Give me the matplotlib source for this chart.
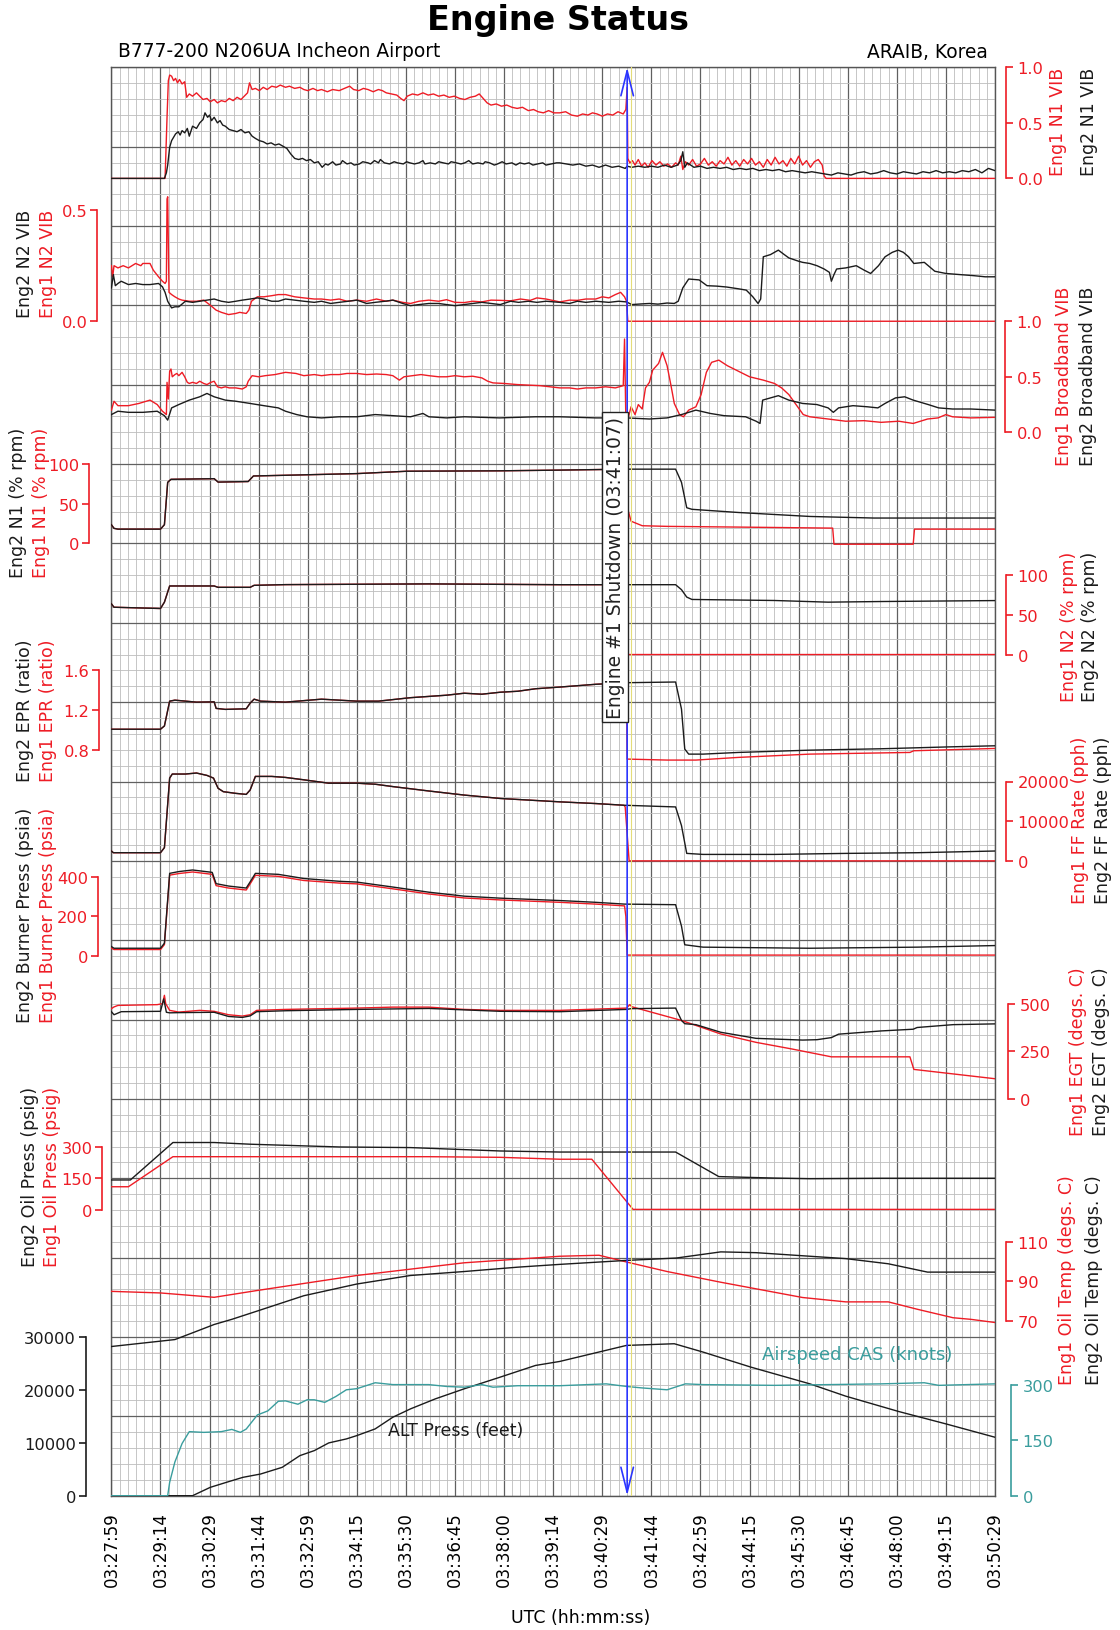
import matplotlib
matplotlib.use("Agg")
import matplotlib.pyplot as plt
from matplotlib.ticker import MultipleLocator

plt.rcParams["font.family"] = ["DejaVu Sans"]

# ---------------- data (time = seconds after 03:27:59) ----------------
time_labels = ["03:27:59", "03:29:14", "03:30:29", "03:31:44", "03:32:59",
               "03:34:15", "03:35:30", "03:36:45", "03:38:00", "03:39:14",
               "03:40:29", "03:41:44", "03:42:59", "03:44:15", "03:45:30",
               "03:46:45", "03:48:00", "03:49:15", "03:50:29"]
shutdown_t = 788

n1vib_e1 = [(0,0),(82,0),(85,.55),(87,.88),(89,.93),(92,.92),(95,.88),(98,.90),(101,.86),(104,.89),(108,.85),(112,.87),(115,.73),(119,.76),(124,.74),(130,.77),(135,.74),(140,.71),(146,.72),(151,.69),(157,.71),(162,.68),(168,.70),(174,.69),(180,.72),(186,.70),(192,.73),(198,.71),(203,.74),(208,.77),(211,.86),(215,.80),(220,.81),(226,.79),(232,.82),(238,.80),(245,.83),(252,.82),(258,.84),(266,.82),(272,.83),(280,.81),(288,.82),(294,.80),(300,.79),(308,.81),(315,.79),(321,.80),(330,.78),(338,.80),(348,.79),(356,.81),(364,.83),(370,.80),(378,.79),(385,.81),(392,.80),(400,.78),(408,.80),(414,.79),(420,.77),(428,.76),(436,.75),(442,.72),(447,.70),(452,.74),(460,.76),(468,.75),(476,.77),(484,.75),(492,.76),(500,.74),(508,.75),(516,.73),(524,.74),(532,.72),(540,.71),(548,.73),(556,.74),(562,.76),(568,.72),(574,.68),(580,.66),(588,.67),(596,.65),(604,.66),(612,.64),(620,.63),(628,.64),(637,.61),(645,.62),(652,.60),(660,.59),(668,.61),(676,.59),(685,.59),(694,.60),(703,.57),(712,.56),(720,.58),(728,.57),(735,.59),(742,.58),(750,.56),(758,.58),(766,.57),(774,.60),(782,.58),(786,.62),(788,.82),(789,.18),(792,.14),(796,.16),(800,.12),(805,.17),(810,.11),(815,.14),(820,.10),(826,.16),(832,.12),(838,.15),(844,.11),(850,.13),(856,.10),(862,.14),(866,.12),(870,.20),(873,.08),(877,.15),(882,.12),(888,.17),(894,.11),(900,.13),(906,.18),(912,.12),(918,.15),(924,.11),(930,.16),(936,.13),(942,.19),(948,.12),(954,.16),(960,.11),(966,.17),(972,.13),(978,.18),(984,.12),(990,.15),(996,.10),(1002,.17),(1008,.12),(1014,.19),(1020,.13),(1026,.16),(1032,.11),(1038,.18),(1044,.13),(1050,.20),(1056,.12),(1062,.16),(1068,.10),(1074,.15),(1080,.17),(1086,.12),(1089,.02),(1092,0),(1350,0)]
n1vib_e2 = [(0,0),(81,0),(84,.05),(86,.12),(89,.28),(92,.34),(95,.37),(98,.40),(102,.42),(105,.39),(108,.43),(112,.41),(116,.45),(119,.38),(124,.47),(130,.45),(135,.50),(140,.53),(143,.59),(147,.55),(150,.57),(153,.52),(157,.55),(162,.50),(166,.52),(170,.48),(174,.47),(180,.44),(186,.43),(192,.42),(198,.44),(204,.41),(210,.42),(215,.38),(220,.36),(226,.34),(232,.33),(238,.31),(244,.32),(250,.30),(256,.31),(262,.29),(268,.27),(274,.22),(280,.18),(286,.17),(292,.18),(298,.16),(304,.17),(310,.14),(316,.15),(322,.10),(327,.13),(331,.12),(338,.15),(343,.12),(350,.13),(353,.16),(360,.13),(366,.14),(371,.12),(379,.13),(384,.15),(392,.14),(396,.13),(402,.16),(408,.14),(411,.17),(417,.14),(425,.13),(432,.15),(437,.14),(446,.13),(451,.15),(456,.14),(463,.13),(470,.14),(476,.16),(479,.13),(487,.14),(495,.13),(500,.15),(507,.14),(515,.13),(519,.15),(527,.14),(534,.13),(540,.14),(546,.16),(552,.13),(560,.14),(568,.13),(571,.15),(578,.14),(585,.12),(590,.13),(597,.15),(603,.13),(612,.14),(618,.12),(624,.14),(631,.13),(638,.14),(644,.12),(651,.13),(659,.14),(664,.12),(672,.13),(680,.14),(685,.14),(695,.13),(705,.12),(715,.13),(725,.11),(735,.12),(745,.10),(755,.12),(765,.10),(775,.11),(785,.09),(788,.11),(795,.10),(805,.11),(815,.10),(825,.11),(835,.10),(845,.12),(855,.10),(865,.12),(870,.16),(873,.24),(876,.10),(880,.14),(890,.10),(900,.11),(910,.09),(920,.10),(930,.09),(940,.10),(950,.08),(960,.09),(970,.08),(980,.09),(990,.07),(1000,.08),(1010,.07),(1020,.08),(1030,.06),(1040,.07),(1050,.06),(1060,.05),(1070,.06),(1080,.05),(1090,.04),(1100,.03),(1110,.05),(1120,.04),(1130,.03),(1140,.05),(1150,.06),(1160,.04),(1170,.05),(1180,.07),(1190,.05),(1200,.04),(1210,.06),(1220,.05),(1230,.04),(1240,.06),(1250,.05),(1260,.07),(1270,.05),(1280,.06),(1290,.05),(1300,.07),(1310,.06),(1320,.08),(1330,.05),(1340,.09),(1350,.07)]

n2vib_e1 = [(0,.25),(2,.20),(4,.25),(10,.24),(18,.25),(26,.24),(37,.26),(45,.25),(48,.26),(59,.26),(64,.23),(72,.20),(78,.18),(82,.17),(84,.18),(85,.55),(86,.56),(88,.13),(92,.12),(97,.11),(103,.10),(108,.095),(119,.09),(130,.09),(141,.095),(152,.07),(160,.05),(168,.04),(179,.03),(190,.035),(196,.04),(206,.035),(210,.05),(214,.09),(223,.11),(233,.11),(245,.115),(255,.12),(266,.12),(280,.11),(294,.105),(310,.10),(321,.10),(335,.095),(348,.10),(360,.09),(375,.095),(390,.09),(405,.10),(420,.09),(430,.095),(445,.085),(457,.08),(470,.09),(485,.095),(500,.09),(512,.097),(525,.085),(539,.084),(552,.09),(566,.087),(580,.095),(594,.094),(610,.092),(625,.10),(640,.094),(650,.105),(664,.10),(685,.087),(700,.095),(712,.094),(725,.10),(740,.10),(750,.11),(760,.105),(770,.12),(778,.13),(784,.11),(787,.09),(789,0),(1350,0)]
n2vib_e2 = [(0,.15),(3,.21),(6,.16),(10,.17),(15,.18),(26,.165),(37,.17),(48,.165),(59,.165),(72,.17),(78,.155),(82,.13),(86,.09),(92,.06),(97,.065),(103,.065),(113,.09),(124,.085),(135,.09),(146,.095),(157,.10),(168,.09),(179,.085),(190,.09),(200,.095),(212,.10),(223,.105),(233,.10),(245,.09),(255,.09),(266,.10),(280,.095),(294,.09),(310,.085),(321,.09),(335,.08),(348,.085),(362,.09),(375,.095),(390,.08),(403,.085),(418,.09),(430,.095),(445,.08),(457,.07),(470,.075),(485,.08),(500,.08),(512,.075),(525,.07),(539,.075),(552,.08),(566,.085),(580,.08),(594,.075),(610,.09),(622,.085),(637,.09),(650,.085),(664,.09),(685,.085),(700,.08),(712,.09),(725,.085),(740,.09),(760,.085),(775,.09),(787,.087),(795,.075),(810,.078),(822,.08),(835,.077),(849,.082),(860,.08),(866,.09),(873,.15),(882,.19),(890,.188),(898,.186),(910,.16),(925,.158),(940,.154),(958,.146),(970,.14),(980,.11),(988,.08),(992,.10),(996,.29),(1007,.30),(1019,.32),(1028,.30),(1035,.285),(1050,.27),(1056,.265),(1067,.26),(1078,.25),(1089,.235),(1097,.22),(1100,.18),(1104,.21),(1108,.235),(1122,.24),(1138,.25),(1150,.23),(1160,.215),(1172,.25),(1182,.29),(1193,.31),(1202,.32),(1210,.31),(1218,.29),(1226,.26),(1242,.265),(1258,.225),(1275,.215),(1296,.21),(1318,.205),(1335,.20),(1350,.20)]

bbvib_e1 = [(0,.20),(4,.28),(10,.24),(26,.24),(42,.26),(59,.29),(70,.25),(78,.19),(84,.16),(85,.45),(87,.30),(89,.55),(91,.57),(93,.50),(97,.52),(100,.53),(103,.51),(108,.54),(112,.50),(116,.45),(119,.44),(124,.45),(130,.44),(135,.46),(141,.44),(146,.43),(152,.45),(157,.46),(162,.41),(168,.40),(174,.41),(180,.40),(190,.40),(200,.39),(206,.41),(209,.46),(215,.51),(225,.50),(235,.51),(250,.52),(266,.54),(282,.53),(294,.51),(310,.52),(321,.51),(335,.52),(348,.52),(360,.53),(375,.53),(390,.52),(405,.525),(420,.52),(430,.51),(440,.47),(447,.50),(460,.51),(473,.52),(485,.51),(500,.50),(512,.50),(525,.51),(539,.50),(552,.505),(566,.49),(575,.46),(583,.445),(600,.44),(620,.43),(637,.425),(655,.42),(670,.41),(685,.40),(700,.40),(712,.39),(725,.40),(740,.40),(755,.41),(770,.40),(782,.42),(784,.84),(786,.11),(790,.14),(794,.23),(800,.16),(805,.25),(811,.21),(816,.40),(822,.45),(827,.56),(836,.62),(842,.72),(849,.60),(855,.42),(860,.26),(868,.16),(874,.14),(882,.20),(893,.23),(901,.34),(909,.54),(917,.63),(928,.65),(941,.60),(958,.55),(975,.50),(996,.47),(1013,.44),(1024,.40),(1035,.34),(1046,.25),(1057,.16),(1067,.14),(1095,.12),(1122,.10),(1150,.105),(1176,.09),(1203,.10),(1225,.08),(1247,.12),(1263,.13),(1275,.16),(1285,.14),(1313,.13),(1350,.135)]
bbvib_e2 = [(0,.16),(10,.19),(26,.18),(48,.18),(70,.19),(81,.15),(86,.11),(92,.22),(103,.25),(119,.29),(135,.32),(146,.35),(157,.32),(174,.29),(190,.28),(212,.26),(233,.24),(255,.22),(266,.19),(283,.16),(299,.14),(321,.13),(348,.14),(375,.14),(403,.16),(430,.15),(457,.14),(476,.17),(485,.14),(512,.13),(539,.14),(593,.13),(648,.14),(685,.14),(740,.13),(787,.13),(822,.12),(849,.13),(871,.16),(893,.20),(915,.17),(936,.15),(969,.14),(985,.10),(991,.08),(995,.29),(1007,.31),(1019,.33),(1035,.29),(1056,.26),(1078,.25),(1095,.22),(1103,.18),(1111,.22),(1133,.24),(1155,.23),(1171,.22),(1182,.26),(1198,.31),(1212,.32),(1225,.29),(1248,.25),(1264,.22),(1285,.21),(1313,.21),(1350,.20)]

n1_e1 = [(0,23.6),(4,19),(10,18),(75,18),(81,23.6),(86,77),(91,80.8),(157,81.6),(163,77.3),(209,78),(217,85),(266,85.9),(375,88),(452,91),(593,91.5),(685,92.4),(787,93.6),(789,43),(794,28),(811,22.3),(849,21.5),(958,20.6),(1102,19.3),(1104,-1),(1225,-1),(1227,18),(1350,18)]
n1_e2 = [(0,23.6),(4,19),(10,18),(75,18),(81,23.6),(86,77),(91,80.8),(157,81.6),(163,77.3),(209,78),(217,85),(266,85.9),(375,88),(452,91),(593,91.5),(685,92.4),(787,93.6),(862,93.6),(871,77),(879,45),(887,43),(958,39),(1067,34),(1165,32),(1350,32)]

n2_e1 = [(0,63.9),(4,59.6),(75,58),(81,66),(89,86.4),(157,86.4),(163,84.7),(212,84.7),(218,87.2),(266,88.1),(485,89),(685,88),(787,88),(789,0),(1350,0)]
n2_e2 = [(0,63.9),(4,59.6),(75,58),(81,66),(89,86.4),(157,86.4),(163,84.7),(212,84.7),(218,87.2),(266,88.1),(485,89),(685,88),(787,88),(862,88),(871,81.7),(879,72.4),(887,69.4),(1013,68.1),(1095,66),(1176,66.8),(1350,68)]

epr_e1 = [(0,1.007),(75,1.007),(81,1.04),(89,1.29),(97,1.30),(130,1.28),(157,1.283),(160,1.217),(174,1.207),(206,1.213),(212,1.27),(218,1.31),(228,1.29),(266,1.28),(321,1.31),(375,1.29),(408,1.29),(457,1.325),(512,1.35),(539,1.37),(566,1.36),(594,1.38),(621,1.39),(648,1.415),(685,1.432),(740,1.46),(787,1.476),(788,0.706),(849,0.696),(893,0.696),(958,0.723),(1067,0.756),(1220,0.773),(1226,0.79),(1350,0.813)]
epr_e2 = [(0,1.007),(75,1.007),(81,1.04),(89,1.29),(97,1.30),(130,1.28),(157,1.283),(160,1.217),(174,1.207),(206,1.213),(212,1.27),(218,1.31),(228,1.29),(266,1.28),(321,1.31),(375,1.29),(408,1.29),(457,1.325),(512,1.35),(539,1.37),(566,1.36),(594,1.38),(621,1.39),(648,1.415),(685,1.432),(740,1.46),(787,1.476),(862,1.483),(871,1.21),(876,0.807),(882,0.756),(904,0.756),(958,0.773),(1067,0.796),(1176,0.81),(1286,0.83),(1350,0.84)]

ff_e1 = [(0,2479),(3,2051),(75,2051),(81,3333),(89,20855),(93,21880),(113,21880),(130,22136),(146,21538),(156,20855),(163,18290),(171,17436),(190,17009),(206,16752),(212,17863),(220,21282),(245,21282),(266,21026),(294,20427),(332,19573),(375,19573),(403,19316),(430,18718),(485,17607),(539,16581),(594,15726),(685,14872),(740,14444),(783,14017),(785,13590),(791,0),(1350,0)]
ff_e2 = [(0,2479),(3,2051),(75,2051),(81,3333),(89,20855),(93,21880),(113,21880),(130,22136),(146,21538),(156,20855),(163,18290),(171,17436),(190,17009),(206,16752),(212,17863),(220,21282),(245,21282),(266,21026),(294,20427),(332,19573),(375,19573),(403,19316),(430,18718),(485,17607),(539,16581),(594,15726),(685,14872),(740,14444),(783,14017),(862,13590),(871,8889),(879,1880),(904,1624),(1013,1624),(1122,1880),(1231,2051),(1350,2479)]

burner_e1 = [(0,40),(4,33),(75,33),(81,58),(89,408),(103,416),(124,424),(154,412),(160,355),(179,343),(206,333),(212,364),(220,407),(255,402),(294,381),(348,368),(375,364),(430,339),(485,313),(539,293),(594,283),(685,271),(740,262),(784,253),(786,200),(788,5),(1350,5)]
burner_e2 = [(0,48),(4,39.5),(75,39.5),(81,65),(89,417),(103,426),(124,434),(154,422),(160,365),(179,353),(206,343),(212,374),(220,417),(255,412),(294,391),(348,377),(375,373),(430,348),(485,322),(539,302),(594,292),(685,280),(740,271),(784,262),(862,259),(871,151),(876,57),(904,45),(1067,39.5),(1231,45),(1350,53)]

egt_e1 = [(0,474),(4,483),(10,491),(70,495),(78,500),(81,544),(83,500),(89,465),(103,456),(135,465),(157,460),(179,442),(200,435),(212,442),(222,465),(266,470),(375,477),(430,482),(485,482),(539,470),(594,465),(685,465),(787,477),(792,495),(795,484),(871,412),(931,341),(985,297),(1040,262),(1100,221),(1220,221),(1226,155),(1350,106)]
egt_e2 = [(0,458),(4,442),(15,458),(75,460),(80,525),(84,455),(89,452),(103,453),(157,455),(179,433),(200,428),(212,436),(222,458),(266,463),(375,470),(485,475),(594,460),(685,458),(787,470),(794,474),(862,477),(871,412),(876,395),(893,390),(931,350),(985,318),(1056,309),(1078,311),(1100,322),(1111,340),(1176,357),(1225,366),(1231,375),(1286,390),(1350,394)]

oilp_e1 = [(0,110),(26,110),(94,252),(375,252),(485,252),(594,249),(685,240),(734,240),(797,3),(1350,3)]
oilp_e2 = [(0,142),(29,142),(94,319),(157,319),(212,311),(348,298),(457,295),(594,279),(685,274),(862,274),(928,158),(1013,151),(1067,148),(1176,150),(1350,150)]

oilt_e1 = [(0,85.0),(75,84.2),(157,82.0),(222,85.4),(375,93.0),(539,99.4),(685,102.7),(745,103.2),(787,99.8),(849,95.0),(931,89.6),(1056,81.9),(1122,79.7),(1187,79.7),(1231,76.0),(1286,71.7),(1313,70.9),(1350,69.3)]
oilt_e2 = [(0,57.2),(97,60.7),(124,64.1),(157,68.3),(184,70.9),(223,75.1),(294,82.8),(375,88.7),(457,93.0),(539,95.0),(621,97.2),(685,98.6),(787,100.6),(863,101.8),(931,104.9),(985,104.5),(1122,101.5),(1187,98.9),(1247,94.7),(1350,94.7)]

alt_press = [(0,0),(124,0),(151,1578),(179,2652),(201,3472),(228,4100),(261,5366),(288,7576),(310,8522),(332,9975),(359,10732),(375,11363),(403,12626),(430,14836),(457,16414),(495,18308),(539,20202),(594,22411),(648,24621),(685,25378),(787,28408),(860,28724),(904,27146),(977,24305),(1067,21148),(1122,18813),(1203,15909),(1275,13573),(1350,11048)]
cas = [(0,0),(86,0),(89,36),(97,91),(108,141),(119,173),(141,171),(168,173),(184,179),(197,171),(206,180),(223,218),(239,229),(255,255),(266,256),(285,247),(299,259),(310,259),(326,252),(343,268),(359,286),(375,289),(403,305),(430,300),(485,300),(512,295),(539,293),(566,300),(583,293),(621,297),(685,297),(756,302),(787,295),(811,291),(849,286),(877,302),(904,300),(1013,298),(1176,302),(1242,305),(1264,298),(1350,302)]

# ---------------- layout ----------------
RED = "#ee1c25"
BLK = "#1b1b1b"
TEAL = "#3a9d9d"
W, H = 1120, 1631
L, R, T, B = 111.4, 995.0, 68.3, 1496.7
rect = [L / W, 1 - B / H, (R - L) / W, (B - T) / H]

fig = plt.figure(figsize=(W / 100, H / 100), dpi=100)

# background grid (18 x 18 major cells)
ax = fig.add_axes(rect)
ax.set_xlim(0, 1350)
ax.set_ylim(0, 18)
ax.set_xticks(range(0, 1351, 75))
ax.set_xticklabels(time_labels, rotation=90, fontsize=12)
ax.xaxis.set_minor_locator(MultipleLocator(12.5))
ax.yaxis.set_major_locator(MultipleLocator(1))
ax.yaxis.set_minor_locator(MultipleLocator(0.2))
ax.tick_params(which="both", length=0, labelleft=False)
ax.tick_params(axis="x", pad=11)
ax.grid(which="minor", color="#bdbdbd", lw=0.6)
ax.grid(which="major", color="#606060", lw=0.9)
for s in ax.spines.values():
    s.set_color("#555555")
    s.set_linewidth(1.0)


def scale_axes(side, g0, v0, g1, v1, ticks, ticklabels, color, offset):
    # one transparent axes per parameter; g = grid row position of a value
    a = fig.add_axes(rect)
    a.patch.set_visible(False)
    k = (g1 - g0) / (v1 - v0)
    a.set_xlim(0, 1350)
    a.set_ylim(v0 - g0 / k, v0 + (18 - g0) / k)
    a.xaxis.set_visible(False)
    for s in a.spines.values():
        s.set_visible(False)
    sp = a.spines[side]
    sp.set_visible(True)
    sp.set_position(("outward", offset * 0.72))
    sp.set_bounds(ticks[0], ticks[-1])
    sp.set_color(color)
    sp.set_linewidth(1.2)
    a.yaxis.set_ticks_position(side)
    a.set_yticks(ticks)
    a.set_yticklabels(ticklabels)
    a.tick_params(axis="y", colors=color, length=5, width=1.2, labelsize=11.7,
                  pad=2 if side == "left" else 3.5)
    return a


def trace(a, pairs, color):
    a.plot([p[0] for p in pairs], [p[1] for p in pairs], color=color, lw=1.0)


def vlabel(x, y, s, color):
    fig.text(x / W, 1 - y / H, s, rotation=90, ha="center", va="center",
             color=color, fontsize=12.5)


panels = [
    ("right", 16.6, 0.0, 18.0, 1.0, [0, 0.5, 1.0], ["0.0", "0.5", "1.0"], 10.7, n1vib_e1, n1vib_e2),
    ("left", 14.8, 0.0, 16.2, 0.5, [0, 0.5], ["0.0", "0.5"], 14.4, n2vib_e1, n2vib_e2),
    ("right", 13.4, 0.0, 14.8, 1.0, [0, 0.5, 1.0], ["0.0", "0.5", "1.0"], 9.6, bbvib_e1, bbvib_e2),
    ("left", 12.0, 0, 13.0, 100, [0, 50, 100], ["0", "50", "100"], 22.8, n1_e1, n1_e2),
    ("right", 10.6, 0, 11.6, 100, [0, 50, 100], ["0", "50", "100"], 10.7, n2_e1, n2_e2),
    ("left", 9.4, 0.8, 10.4, 1.6, [0.8, 1.2, 1.6], ["0.8", "1.2", "1.6"], 12.4, epr_e1, epr_e2),
    ("right", 8.0, 0, 9.0, 20000, [0, 10000, 20000], ["0", "10000", "20000"], 10.7, ff_e1, ff_e2),
    ("left", 6.8, 0, 7.8, 400, [0, 200, 400], ["0", "200", "400"], 13.4, burner_e1, burner_e2),
    ("right", 5.0, 0, 6.2, 500, [0, 250, 500], ["0", "250", "500"], 13.2, egt_e1, egt_e2),
    ("left", 3.6, 0, 4.4, 300, [0, 150, 300], ["0", "150", "300"], 9.0, oilp_e1, oilp_e2),
    ("right", 2.2, 70, 3.2, 110, [70, 90, 110], ["70", "90", "110"], 10.7, oilt_e1, oilt_e2),
]
for side, g0, v0, g1, v1, ticks, tl, off, e1, e2 in panels:
    a = scale_axes(side, g0, v0, g1, v1, ticks, tl, RED, off)
    trace(a, e1, RED)
    trace(a, e2, BLK)

a = scale_axes("left", 0.0, 0, 2.0, 30000, [0, 10000, 20000, 30000],
               ["0", "10000", "20000", "30000"], BLK, 25.7)
trace(a, alt_press, BLK)
a = scale_axes("right", 0.0, 0, 1.4, 300, [0, 150, 300], ["0", "150", "300"], TEAL, 15.7)
trace(a, cas, TEAL)

# parameter names
left_names = [
    ("Eng2 N2 VIB", "Eng1 N2 VIB", 25, 48, 264),
    ("Eng2 N1 (% rpm)", "Eng1 N1 (% rpm)", 18, 41, 503),
    ("Eng2 EPR (ratio)", "Eng1 EPR (ratio)", 25, 48, 711),
    ("Eng2 Burner Press (psia)", "Eng1 Burner Press (psia)", 25, 48, 915),
    ("Eng2 Oil Press (psig)", "Eng1 Oil Press (psig)", 30, 52, 1177),
]
for blk, red, xb, xr, y in left_names:
    vlabel(xb, y, blk, BLK)
    vlabel(xr, y, red, RED)
right_names = [
    ("Eng1 N1 VIB", "Eng2 N1 VIB", 1058, 1089, 122),
    ("Eng1 Broadband VIB", "Eng2 Broadband VIB", 1064, 1088, 376),
    ("Eng1 N2 (% rpm)", "Eng2 N2 (% rpm)", 1069, 1090, 627),
    ("Eng1 FF Rate (pph)", "Eng2 FF Rate (pph)", 1080, 1103, 820),
    ("Eng1 EGT (degs. C)", "Eng2 EGT (degs. C)", 1078, 1101, 1052),
    ("Eng1 Oil Temp (degs. C)", "Eng2 Oil Temp (degs. C)", 1067, 1094, 1280),
]
for red, blk, xr, xb, y in right_names:
    vlabel(xr, y, red, RED)
    vlabel(xb, y, blk, BLK)

fig.text(857 / W, 1 - 1355 / H, "Airspeed CAS (knots)", color=TEAL, fontsize=13,
         ha="center", va="center")
fig.text(456 / W, 1 - 1431 / H, "ALT Press (feet)", color=BLK, fontsize=12.5,
         ha="center", va="center")

# shutdown marker
top = fig.add_axes(rect)
top.set_xlim(0, 1350)
top.set_ylim(0, 18)
top.axis("off")
top.axvline(shutdown_t + 6, color="#e4dc78", lw=0.8)
top.annotate("", xy=(shutdown_t, 18), xytext=(shutdown_t, 0),
             arrowprops=dict(arrowstyle="<->,head_length=1.0,head_width=0.25",
                             color="#2b35ff", lw=1.2, mutation_scale=18,
                             shrinkA=0, shrinkB=0))
top.text(shutdown_t - 4, 11.7, "Engine #1 Shutdown (03:41:07)", rotation=90,
         ha="right", va="center", fontsize=13.5, color="#222222",
         bbox=dict(boxstyle="square,pad=0.2", fc="white", ec="#222222", lw=1.0))

# titles
fig.text(558 / W, 1 - 30 / H, "Engine Status", ha="center", va="baseline",
         fontsize=24, fontweight="bold")
fig.text(118 / W, 1 - 57 / H, "B777-200 N206UA Incheon Airport", ha="left",
         va="baseline", fontsize=13.4)
fig.text(988 / W, 1 - 58 / H, "ARAIB, Korea", ha="right", va="baseline", fontsize=13.4)
fig.text(581 / W, 1 - 1618 / H, "UTC (hh:mm:ss)", ha="center", va="center", fontsize=12.5)

fig.savefig("out.png", dpi=100)
